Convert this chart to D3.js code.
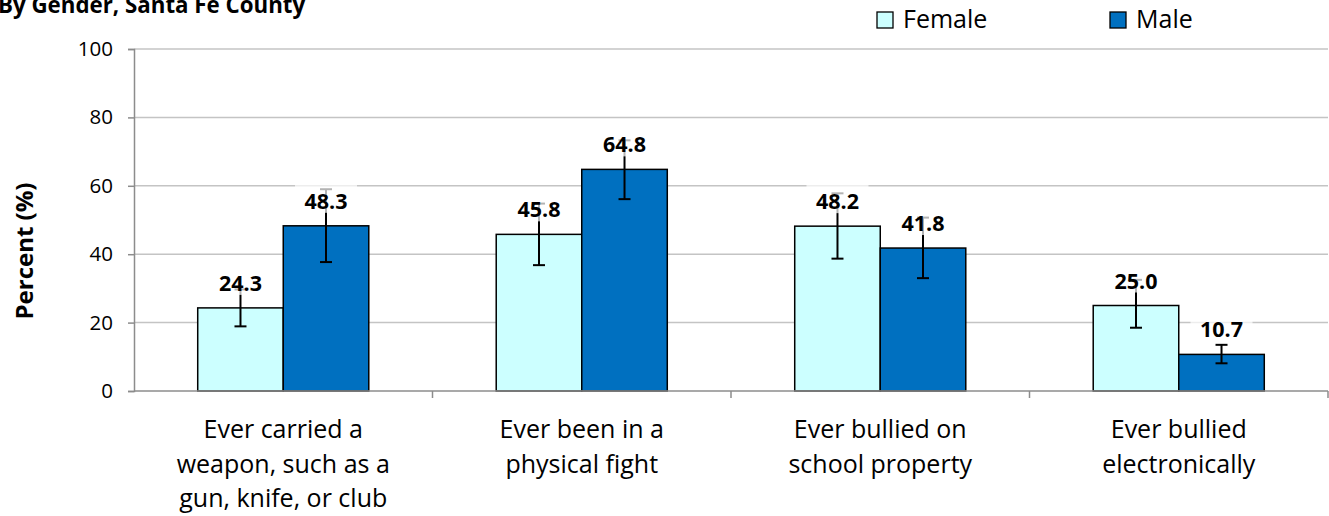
<!DOCTYPE html>
<html>
<head>
<meta charset="utf-8">
<script src="https://cdn.jsdelivr.net/npm/d3@7"></script>
<style>
  body { margin: 0; background: #fff; }
  svg { display: block; font-family: "Open Sans", sans-serif; }
</style>
</head>
<body>
<div id="wrapper"></div>
<script>
// data
const categories = [
  ["Ever carried a", "weapon, such as a", "gun, knife, or club"],
  ["Ever been in a", "physical fight"],
  ["Ever bullied on", "school property"],
  ["Ever bullied", "electronically"]
]
const seriesNames = ["Female", "Male"]
const femaleValues = [24.3, 45.8, 48.2, 25.0]
const maleValues = [48.3, 64.8, 41.8, 10.7]
const femaleLow = [18.9, 36.8, 38.7, 18.5]
const femaleHigh = [29.7, 54.8, 57.8, 32.5]
const maleLow = [37.7, 56.1, 33.0, 8.1]
const maleHigh = [59.0, 73.3, 50.7, 13.5]
const yTicks = [0, 20, 40, 60, 80, 100]
const colors = {Female: "#ccffff", Male: "#0070c0"}

const dataset = []
categories.forEach((c, i) => {
  dataset.push({cat: i, series: "Female", value: femaleValues[i], low: femaleLow[i], high: femaleHigh[i]})
  dataset.push({cat: i, series: "Male", value: maleValues[i], low: maleLow[i], high: maleHigh[i]})
})

// dimensions
const dimensions = {
  width: 1329,
  height: 516,
  margin: {top: 49, right: 1, bottom: 125, left: 134}
}
dimensions.boundedWidth = dimensions.width - dimensions.margin.left - dimensions.margin.right
dimensions.boundedHeight = dimensions.height - dimensions.margin.top - dimensions.margin.bottom

const wrapper = d3.select("#wrapper").append("svg")
  .attr("width", dimensions.width)
  .attr("height", dimensions.height)

const bounds = wrapper.append("g")
  .attr("transform", `translate(${dimensions.margin.left},${dimensions.margin.top})`)

// scales
const xScale = d3.scaleBand()
  .domain(d3.range(categories.length))
  .range([0, dimensions.boundedWidth])
  .padding(0)

const seriesScale = d3.scaleBand()
  .domain(seriesNames)
  .range([0, xScale.bandwidth()])
  .paddingInner(0)
  .paddingOuter(0.745)

const yScale = d3.scaleLinear()
  .domain([0, 100])
  .range([dimensions.boundedHeight, 0])

// gridlines
bounds.append("g")
  .selectAll("line")
  .data(yTicks.filter(d => d > 0))
  .join("line")
  .attr("x1", 0)
  .attr("x2", dimensions.boundedWidth)
  .attr("y1", d => yScale(d))
  .attr("y2", d => yScale(d))
  .attr("stroke", "#c4c4c4")
  .attr("stroke-width", 1.5)

// y axis
const yAxis = bounds.append("g")
  .call(d3.axisLeft(yScale).tickValues(yTicks).tickSize(6).tickPadding(15))
yAxis.select(".domain").attr("stroke", "#8c8c8c").attr("stroke-width", 1.5)
yAxis.selectAll(".tick line").attr("stroke", "#8c8c8c").attr("stroke-width", 1.5)
yAxis.selectAll(".tick text")
  .attr("font-size", 20.5)
  .attr("font-family", "'Open Sans', sans-serif")
  .attr("fill", "#000")

// bars
const barX = d => xScale(d.cat) + seriesScale(d.series)
bounds.append("g")
  .selectAll("rect")
  .data(dataset)
  .join("rect")
  .attr("x", barX)
  .attr("y", d => yScale(d.value))
  .attr("width", seriesScale.bandwidth())
  .attr("height", d => dimensions.boundedHeight - yScale(d.value))
  .attr("fill", d => colors[d.series])
  .attr("stroke", "#000")
  .attr("stroke-width", 1.5)

// x axis
const xAxis = bounds.append("g")
  .attr("transform", `translate(0,${dimensions.boundedHeight})`)
xAxis.append("line")
  .attr("x1", 0).attr("x2", dimensions.boundedWidth)
  .attr("stroke", "#8c8c8c").attr("stroke-width", 1.5)
xAxis.selectAll(".sep")
  .data(d3.range(1, categories.length + 1))
  .join("line")
  .attr("class", "sep")
  .attr("x1", d => d * xScale.step())
  .attr("x2", d => d * xScale.step())
  .attr("y1", 0).attr("y2", 7)
  .attr("stroke", "#8c8c8c").attr("stroke-width", 1.5)

const catLabels = xAxis.selectAll(".cat")
  .data(categories)
  .join("text")
  .attr("class", "cat")
  .attr("x", (d, i) => xScale(i) + xScale.bandwidth() / 2)
  .attr("y", 47)
  .attr("text-anchor", "middle")
  .attr("font-size", 25)
  .attr("fill", "#000")
catLabels.selectAll("tspan")
  .data(d => d)
  .join("tspan")
  .attr("x", function() { return d3.select(this.parentNode).attr("x") })
  .attr("dy", (d, i) => i === 0 ? 0 : 34.5)
  .text(d => d)

// error bars
const errG = bounds.append("g")
  .selectAll("g")
  .data(dataset)
  .join("g")
  .attr("transform", d => `translate(${barX(d) + seriesScale.bandwidth() / 2},0)`)
errG.append("line")
  .attr("y1", d => yScale(d.low))
  .attr("y2", d => yScale(d.high))
  .attr("stroke", "#000").attr("stroke-width", 2)
errG.selectAll(".cap")
  .data(d => [d.low, d.high])
  .join("line")
  .attr("class", "cap")
  .attr("x1", -6).attr("x2", 6)
  .attr("y1", d => yScale(d))
  .attr("y2", d => yScale(d))
  .attr("stroke", "#000").attr("stroke-width", 2)

// value labels with semi-transparent box
const lblG = bounds.append("g")
  .selectAll("g")
  .data(dataset)
  .join("g")
  .attr("transform", d => `translate(${barX(d) + seriesScale.bandwidth() / 2},${yScale(d.value) - 17})`)
lblG.append("rect")
  .attr("x", -31).attr("y", -25)
  .attr("width", 62).attr("height", 29)
  .attr("fill", "#fff").attr("fill-opacity", 0.7)
lblG.append("text")
  .attr("text-anchor", "middle")
  .attr("font-size", 21.5)
  .attr("font-weight", "bold")
  .attr("fill", "#000")
  .text(d => d.value.toFixed(1))

// y axis title
wrapper.append("text")
  .attr("transform", `translate(33,251) rotate(-90)`)
  .attr("text-anchor", "middle")
  .attr("font-size", 24)
  .attr("font-weight", "bold")
  .text("Percent (%)")

// chart title (cropped at top-left as in the source)
wrapper.append("text")
  .attr("x", -2)
  .attr("y", 13)
  .attr("font-size", 22.3)
  .attr("font-weight", "bold")
  .text("By Gender, Santa Fe County")

// legend
const legendX = [877, 1110]
const legend = wrapper.append("g")
  .selectAll("g")
  .data(seriesNames)
  .join("g")
  .attr("transform", (d, i) => `translate(${legendX[i]},12)`)
legend.append("rect")
  .attr("width", 16).attr("height", 16)
  .attr("fill", d => colors[d])
  .attr("stroke", "#000").attr("stroke-width", 1.3)
legend.append("text")
  .attr("x", 26)
  .attr("y", 16)
  .attr("font-size", 25)
  .text(d => d)
</script>
</body>
</html>
